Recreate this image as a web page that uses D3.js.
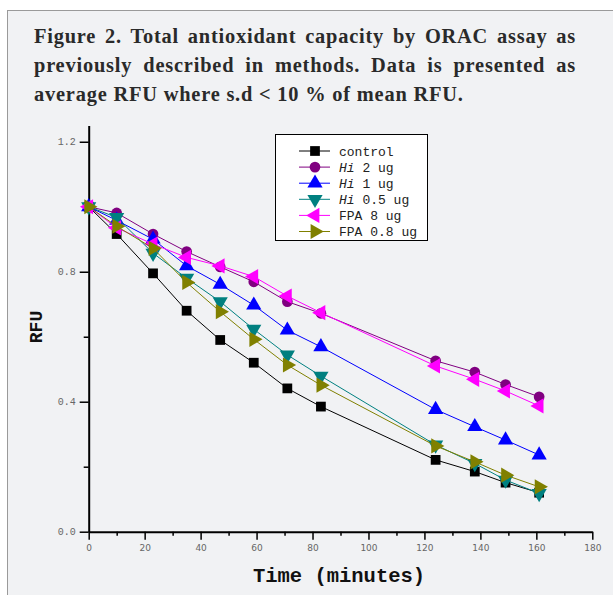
<!DOCTYPE html>
<html>
<head>
<meta charset="utf-8">
<script src="https://cdn.jsdelivr.net/npm/d3@7"></script>
<style>
  body { margin: 0; background: #fff; }
  svg { display: block; }
</style>
</head>
<body>
<div id="chart"></div>
<script>
// ORAC assay figure: RFU over time for six treatments
const times = [0, 10, 23, 35, 47, 59, 71, 83, 124, 138, 149, 161];
const control = [1.0, 0.916, 0.795, 0.68, 0.59, 0.52, 0.441, 0.385, 0.221, 0.185, 0.151, 0.12];
const hi2 = [1.0, 0.981, 0.916, 0.862, 0.815, 0.769, 0.708, 0.672, 0.526, 0.491, 0.453, 0.415];
const hi1 = [1.0, 0.958, 0.9, 0.818, 0.761, 0.697, 0.62, 0.569, 0.376, 0.323, 0.282, 0.236];
const hi05 = [1.0, 0.967, 0.857, 0.78, 0.708, 0.623, 0.544, 0.479, 0.267, 0.21, 0.159, 0.118];
const fpa8 = [1.0, 0.935, 0.885, 0.844, 0.818, 0.785, 0.725, 0.674, 0.51, 0.469, 0.433, 0.387];
const fpa08 = [1.0, 0.94, 0.872, 0.767, 0.677, 0.592, 0.513, 0.451, 0.264, 0.215, 0.174, 0.138];

const seriesNames = ['control', 'Hi 2 ug', 'Hi 1 ug', 'Hi 0.5 ug', 'FPA 8 ug', 'FPA 0.8 ug'];
const xTicks = [0, 10, 20, 30, 40, 50, 60, 70, 80, 90, 100, 110, 120, 130, 140, 150, 160, 170, 180];
const yTicks = [0, 0.2, 0.4, 0.6, 0.8, 1.0, 1.2];
const titleLines = [
  'Figure 2. Total antioxidant capacity by ORAC assay as',
  'previously described in methods. Data is presented as',
  'average RFU where s.d < 10 % of mean RFU.'
];

(function(){
  const W = 613, H = 595;
  const svg = d3.select('#chart').append('svg').attr('width', W).attr('height', H);

  // panel
  svg.append('rect').attr('x', 7.5).attr('y', 10.5).attr('width', W).attr('height', H)
    .attr('fill', '#f1f2f4').attr('stroke', '#9a9a9a').attr('stroke-width', 1);

  // title, first two lines justified by word spacing
  titleLines.forEach((t, i) => {
    const txt = svg.append('text').attr('x', 34).attr('y', 43 + i * 29)
      .attr('font-family', '"Liberation Serif", serif').attr('font-weight', 'bold')
      .attr('font-size', 20.4).attr('letter-spacing', 0.8).attr('fill', '#2a2a2a').text(t);
    if (i < 2) {
      const len = txt.node().getComputedTextLength();
      const spaces = t.split(' ').length - 1;
      txt.attr('word-spacing', (576 - 34 - len) / spaces);
    }
  });

  const x = d3.scaleLinear().domain([0, 180]).range([88.7, 592.3]);
  const y = d3.scaleLinear().domain([0, 1.25]).range([531.7, 125.5]);

  const data = [control, hi2, hi1, hi05, fpa8, fpa08];
  const colors = ['#000000', '#800080', '#0000ff', '#008080', '#ff00ff', '#808000'];
  const symbols = [
    { type: d3.symbolSquare, size: 95, rot: 0 },
    { type: d3.symbolCircle, size: 90, rot: 0 },
    { type: d3.symbolTriangle, size: 100, rot: 0 },
    { type: d3.symbolTriangle, size: 100, rot: 180 },
    { type: d3.symbolTriangle, size: 100, rot: -90 },
    { type: d3.symbolTriangle, size: 100, rot: 90 }
  ];

  // axes
  const xAxis = d3.axisBottom(x).tickValues(xTicks).tickSize(8).tickSizeOuter(0).tickPadding(5)
    .tickFormat(d => d % 20 === 0 ? d : '');
  const gx = svg.append('g').attr('transform', `translate(0,${y(0)})`).call(xAxis);
  gx.select('.domain').attr('stroke-width', 2);
  gx.selectAll('.tick line').attr('stroke-width', 1.5).attr('y2', d => d % 20 === 0 ? 8 : 4);
  gx.selectAll('.tick text').attr('font-family', '"DejaVu Sans", sans-serif').attr('font-size', 9).attr('fill', '#666');

  const yAxis = d3.axisLeft(y).tickValues(yTicks).tickSize(9).tickSizeOuter(0).tickPadding(4)
    .tickFormat((d, i) => i % 2 === 0 ? d3.format('.1f')(d) : '');
  const gy = svg.append('g').attr('transform', `translate(${x(0)},0)`).call(yAxis);
  gy.select('.domain').attr('stroke-width', 2);
  gy.selectAll('.tick line').attr('stroke-width', 1.5).attr('x2', (d, i) => i % 2 === 0 ? -9 : -5);
  gy.selectAll('.tick text').attr('font-family', '"Liberation Mono", monospace').attr('font-size', 10).attr('fill', '#666');

  // axis titles
  svg.append('text').attr('x', 339).attr('y', 582).attr('text-anchor', 'middle')
    .attr('font-family', '"Liberation Mono", monospace').attr('font-weight', 'bold').attr('font-size', 20.5)
    .attr('fill', '#111').text('Time (minutes)');
  svg.append('text').attr('transform', 'translate(42,327) rotate(-90)').attr('text-anchor', 'middle')
    .attr('font-family', '"Liberation Mono", monospace').attr('font-weight', 'bold').attr('font-size', 18)
    .attr('fill', '#111').text('RFU');

  // series
  const line = d3.line().x((d, i) => x(times[i])).y(d => y(d));
  data.forEach((vals, si) => {
    const g = svg.append('g');
    g.append('path').datum(vals).attr('d', line).attr('fill', 'none')
      .attr('stroke', colors[si]).attr('stroke-width', 1);
    const sym = d3.symbol().type(symbols[si].type).size(symbols[si].size);
    g.selectAll('path.pt').data(vals).enter().append('path').attr('class', 'pt')
      .attr('d', sym)
      .attr('transform', (d, i) => `translate(${x(times[i])},${y(d)}) rotate(${symbols[si].rot})`)
      .attr('fill', colors[si]);
  });

  // legend
  const lg = svg.append('g');
  lg.append('rect').attr('x', 275.5).attr('y', 134.5).attr('width', 152).attr('height', 106)
    .attr('fill', '#fff').attr('stroke', '#000').attr('stroke-width', 1);
  seriesNames.forEach((name, i) => {
    const cy = 151 + i * 16.1;
    lg.append('line').attr('x1', 299).attr('x2', 330).attr('y1', cy).attr('y2', cy)
      .attr('stroke', colors[i]).attr('stroke-width', 1);
    lg.append('path').attr('d', d3.symbol().type(symbols[i].type).size(symbols[i].size))
      .attr('transform', `translate(315,${cy}) rotate(${symbols[i].rot})`).attr('fill', colors[i]);
    const t = lg.append('text').attr('x', 339).attr('y', cy + 4.5)
      .attr('font-family', '"Liberation Mono", monospace').attr('font-size', 13).attr('fill', '#222');
    if (name.startsWith('Hi ')) {
      t.append('tspan').attr('font-style', 'italic').text('Hi');
      t.append('tspan').text(name.slice(2));
    } else {
      t.text(name);
    }
  });
})();
</script>
</body>
</html>
